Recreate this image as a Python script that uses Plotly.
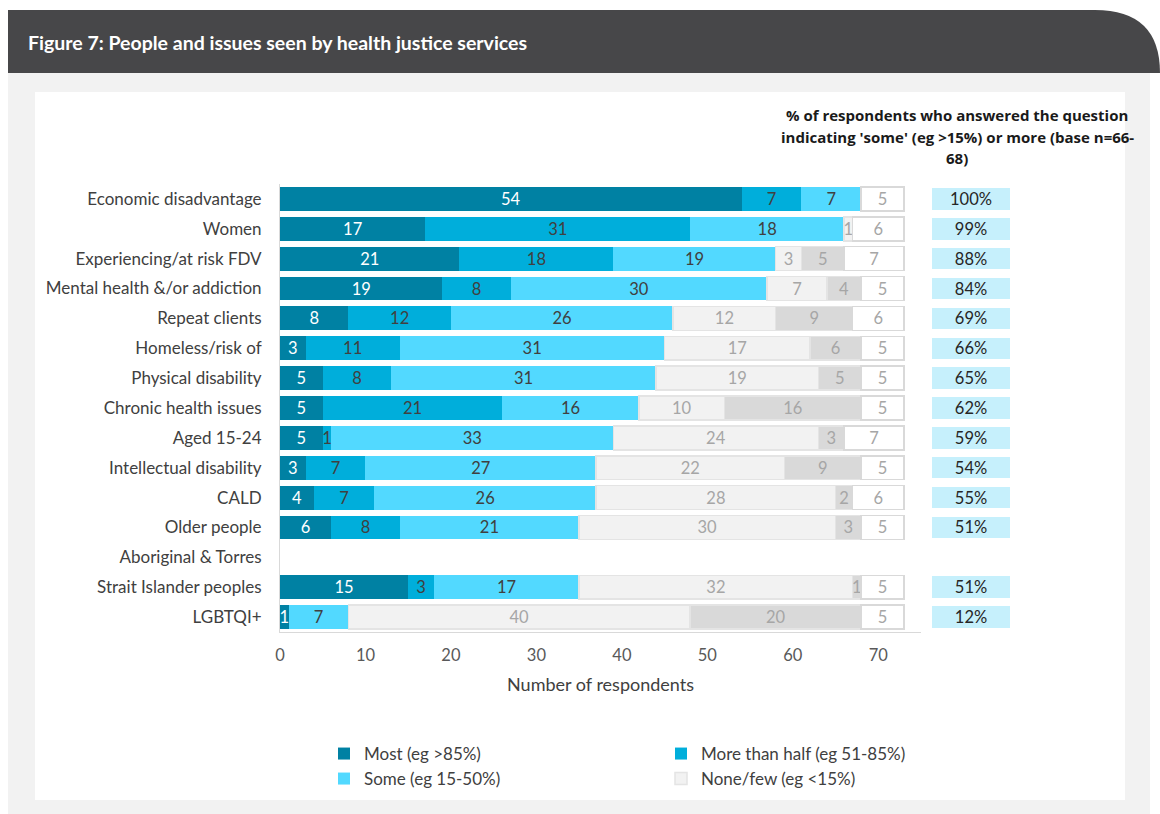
import plotly.graph_objects as go

W, H = 1160, 814

categories = ["Economic disadvantage", "Women", "Experiencing/at risk FDV",
              "Mental health &/or addiction", "Repeat clients", "Homeless/risk of",
              "Physical disability", "Chronic health issues", "Aged 15-24",
              "Intellectual disability", "CALD", "Older people",
              "Aboriginal & Torres", "Strait Islander peoples", "LGBTQI+"]
most = [54, 17, 21, 19, 8, 3, 5, 5, 5, 3, 4, 6, None, 15, 1]
more_half = [7, 31, 18, 8, 12, 11, 8, 21, 1, 7, 7, 8, None, 3, 0]
some = [7, 18, 19, 30, 26, 31, 31, 16, 33, 27, 26, 21, None, 17, 7]
none_few = [0, 1, 3, 7, 12, 17, 19, 10, 24, 22, 28, 30, None, 32, 40]
dont_know = [0, 0, 5, 4, 9, 6, 5, 16, 3, 9, 2, 3, None, 1, 20]
not_answered = [5, 6, 7, 5, 6, 5, 5, 5, 7, 5, 6, 5, None, 5, 5]
pct_some_or_more = ["100%", "99%", "88%", "84%", "69%", "66%", "65%", "62%",
                    "59%", "54%", "55%", "51%", "", "51%", "12%"]
x_ticks = [0, 10, 20, 30, 40, 50, 60, 70]

FONT = "Lato"

def px(x, y):
    return x / W, 1 - y / H

def lbl(vals):
    return ["" if (v is None or v == 0) else str(v) for v in vals]

series = [
    ("Most (eg >85%)", most, "#0081A3", "#FFFFFF", "legend", True, None),
    ("More than half (eg 51-85%)", more_half, "#00AEDB", "#404040", "legend", True, None),
    ("Some (eg 15-50%)", some, "#52D9FF", "#404040", "legend2", True, None),
    ("None/few (eg <15%)", none_few, "#F2F2F2", "#A6A6A6", "legend2", True, "#E4E4E4"),
    ("Don't know", dont_know, "#D9D9D9", "#A6A6A6", "legend2", False, "#E4E4E4"),
    ("Not answered", not_answered, "#FFFFFF", "#A6A6A6", "legend2", False, "#D9D9D9"),
]

fig = go.Figure()
for name, vals, col, tcol, lg, show, lcol in series:
    fig.add_trace(go.Bar(
        y=categories, x=vals, orientation="h", name=name,
        marker=dict(color=col, line=dict(color=lcol if lcol else col, width=1.5 if lcol else 0)),
        text=lbl(vals), textposition="inside", insidetextanchor="middle", textangle=0,
        textfont=dict(family=FONT, size=16.5, color=tcol),
        width=0.8, showlegend=show, legend=lg, hoverinfo="skip",
    ))

fig.add_trace(go.Bar(
    y=categories, x=[1 if p else None for p in pct_some_or_more], orientation="h",
    xaxis="x2", yaxis="y", name="% some or more",
    marker=dict(color="#C6F0FC", line=dict(width=0)),
    text=pct_some_or_more, textposition="inside", insidetextanchor="middle", textangle=0,
    textfont=dict(family=FONT, size=16.5, color="#262626"),
    width=0.72, showlegend=False, hoverinfo="skip",
))

shapes = []
p = lambda x, y: "%.5f,%.5f" % px(x, y)
shapes.append(dict(type="path", xref="paper", yref="paper",
                   path="M %s L %s Q %s %s L %s Z" % (p(8, 10), p(1095, 10), p(1160, 10), p(1160, 73), p(8, 73)),
                   fillcolor="#474749", line=dict(width=0), layer="below"))
x0, y0 = px(8, 73); x1, y1 = px(1150, 814)
shapes.append(dict(type="rect", xref="paper", yref="paper", x0=x0, y0=y1, x1=x1, y1=y0,
                   fillcolor="#F2F2F2", line=dict(width=0), layer="below"))
x0, y0 = px(35, 92); x1, y1 = px(1125, 800)
shapes.append(dict(type="rect", xref="paper", yref="paper", x0=x0, y0=y1, x1=x1, y1=y0,
                   fillcolor="#FFFFFF", line=dict(width=0), layer="below"))

annotations = []
tx, ty = px(26, 43)
annotations.append(dict(text="<b>Figure 7: People and issues seen by health justice services</b>",
                        xref="paper", yref="paper", x=tx, y=ty, xanchor="left", yanchor="middle",
                        showarrow=False, font=dict(family=FONT, size=19.5, color="#FFFFFF")))
for line, yy in [("% of respondents who answered the question", 115),
                 ("indicating 'some' (eg >15%) or more (base n=66-", 137),
                 ("68)", 158)]:
    ax, ay = px(957, yy)
    annotations.append(dict(text="<b>%s</b>" % line, xref="paper", yref="paper", x=ax, y=ay,
                            xanchor="center", yanchor="middle", showarrow=False,
                            font=dict(family="Open Sans", size=15, color="#1A1A1A")))

fig.update_layout(
    width=W, height=H, margin=dict(l=0, r=0, t=0, b=0),
    paper_bgcolor="#FFFFFF", plot_bgcolor="rgba(0,0,0,0)",
    barmode="stack", bargap=0.2,
    font=dict(family=FONT, size=17, color="#404040"),
    uniformtext=dict(minsize=16.5, mode="show"),
    xaxis=dict(domain=[280 / W, 921 / W], range=[0, 75], tickvals=x_ticks,
               showgrid=False, zeroline=False, showline=True, linecolor="#D9D9D9", linewidth=1,
               tickfont=dict(family=FONT, size=16.5, color="#595959"), ticks="", automargin=False,
               ticklabelstandoff=8,
               title=dict(text="Number of respondents", font=dict(family=FONT, size=18, color="#404040"), standoff=14)),
    xaxis2=dict(domain=[932 / W, 1010 / W], range=[0, 1], anchor="y", visible=False),
    yaxis=dict(domain=[1 - 632 / H, 1 - 184 / H], autorange="reversed", type="category",
               showgrid=False, zeroline=False, showline=True, linecolor="#D9D9D9", linewidth=1,
               tickfont=dict(family=FONT, size=17, color="#404040"), ticks="",
               ticklabelstandoff=14, automargin=False),
    legend=dict(orientation="h", x=324 / W, y=1 - 754 / H, xanchor="left", yanchor="middle",
                entrywidth=292, entrywidthmode="pixels", font=dict(family=FONT, size=17, color="#404040"),
                bgcolor="rgba(0,0,0,0)", traceorder="normal"),
    legend2=dict(orientation="h", x=324 / W, y=1 - 779 / H, xanchor="left", yanchor="middle",
                 entrywidth=292, entrywidthmode="pixels", font=dict(family=FONT, size=17, color="#404040"),
                 bgcolor="rgba(0,0,0,0)", traceorder="normal"),
    shapes=shapes, annotations=annotations,
)

fig.write_html("out.html")
